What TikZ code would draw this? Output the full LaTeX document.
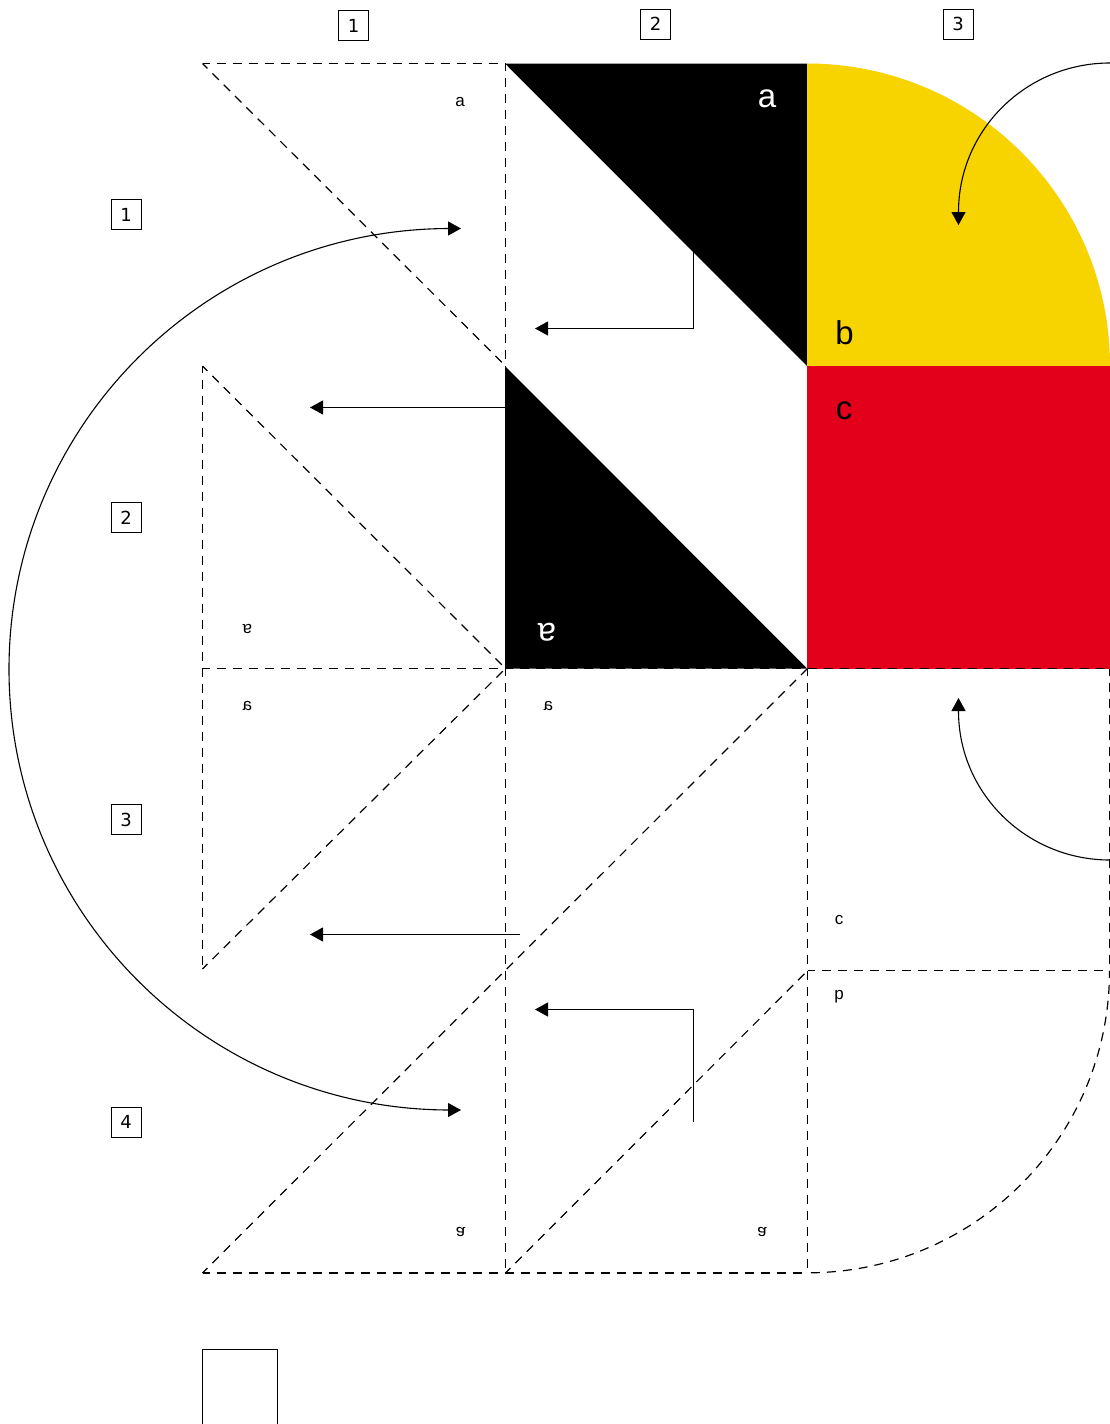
\documentclass[tikz,border=0pt]{standalone}
\usepackage{fontspec}
\setmainfont{Liberation Sans}
\newfontfamily\digitfont{DejaVu Sans}
\usetikzlibrary{arrows.meta}
\definecolor{flagyellow}{HTML}{F7D300}
\definecolor{flagred}{HTML}{E2001A}
\tikzset{
  x=1pt,y=-1pt,
  fold/.style={draw=black,line width=1.2pt,dash pattern=on 9pt off 7pt,dash phase=2pt},
  move/.style={draw=black,line width=1.1pt,-{Triangle[length=13pt,width=14pt]}},
  bothmove/.style={draw=black,line width=1.1pt,{Triangle[length=13pt,width=14pt]}-{Triangle[length=13pt,width=14pt]}},
  numbox/.style={draw=black,line width=0.9pt,minimum size=30pt,inner sep=0pt,font=\digitfont\fontsize{18}{18}\selectfont},
  biglabel/.style={inner sep=0pt,font=\fontsize{33}{33}\selectfont},
  smalllabel/.style={inner sep=0pt,font=\fontsize{17}{17}\selectfont}
}
\begin{document}
\begin{tikzpicture}
\useasboundingbox (0,0) rectangle (1110,1424);
% grid points for fills
\coordinate (fB1) at (505,63.5);  \coordinate (fC1) at (807,63.5);
\coordinate (fB2) at (505,366);   \coordinate (fC2) at (807,366);
\coordinate (fB3) at (505,668.5); \coordinate (fC3) at (807,668.5);
% grid points for fold lines
\coordinate (A1) at (202.5,63.5);  \coordinate (B1) at (505.5,63.5);  
\coordinate (A2) at (202.5,366);   \coordinate (B2) at (505.5,366);
\coordinate (A3) at (202.5,668.5); \coordinate (B3) at (505.5,668.5); \coordinate (C3) at (807.5,668.5); \coordinate (D3) at (1109.5,668.5);
\coordinate (A4) at (202.5,969);   \coordinate (C4) at (807.5,970.8); \coordinate (D4) at (1109.5,970.8);
\coordinate (A5) at (202.5,1273);  \coordinate (B5) at (505.5,1273);  \coordinate (C5) at (807.5,1273);
% filled shapes
\fill[black] (fB1) -- (fC1) -- (fC2) -- cycle;
\fill[black] (fB2) -- (fB3) -- (fC3) -- cycle;
\fill[flagyellow] (fC2) -- (fC1) arc[start angle=90,end angle=0,x radius=303,y radius=-302.5] -- cycle;
\fill[flagred] (fC2) rectangle (1110,668.5);
% fold lines
\draw[fold] (A1) -- (B1);
\draw[fold] (A1) -- (B2);
\draw[fold] (B1) -- (B2);
\draw[fold] (A2) -- (B3);
\draw[fold] (A2) -- (A4);
\draw[fold] (A3) -- (B3);
\draw[fold] (A4) -- (B3);
\draw[fold] (B3) -- (B5);
\draw[fold] (A5) -- (C3);
\draw[fold] (A5) -- (C5);
\draw[fold] (B5) -- (C4);
\draw[fold] (C3) -- (C5);
\draw[fold] (B3) -- (D3);
\draw[fold] (D3) -- (D4);
\draw[fold] (C4) -- (D4);
\draw[fold] (D4) arc[start angle=0,end angle=90,radius=302];
% arrows
\coordinate (e1s) at (693.5,250); \coordinate (e1m) at (693.5,328.5); \coordinate (e1e) at (535,328.5);
\draw[move] (e1s) -- (e1m) -- (e1e);
\coordinate (s2s) at (505,407.5); \coordinate (s2e) at (310,407.5);
\draw[move] (s2s) -- (s2e);
\coordinate (s3s) at (520,934.5); \coordinate (s3e) at (310,934.5);
\draw[move] (s3s) -- (s3e);
\coordinate (e4s) at (693.5,1122); \coordinate (e4m) at (693.5,1009.5); \coordinate (e4e) at (535,1009.5);
\draw[move] (e4s) -- (e4m) -- (e4e);
\coordinate (bigtop) at (461,228.5); \coordinate (bigbot) at (461,1110);
\draw[bothmove] (bigtop) -- (450,228.5) arc[start angle=90,end angle=270,x radius=441,y radius=-440.75] -- (bigbot);
\coordinate (tr) at (1110,63); \coordinate (trend) at (958.5,225);
\draw[move] (tr) arc[start angle=90,end angle=180,x radius=151.5,y radius=-149] -- (trend);
\coordinate (br) at (1110,860); \coordinate (brend) at (958.5,698);
\draw[move] (br) arc[start angle=270,end angle=180,x radius=151.5,y radius=-149] -- (brend);
% number boxes
\node[numbox] (t1) at (353.5,25.5) {1};
\node[numbox] (t2) at (655.5,24) {2};
\node[numbox] (t3) at (958,24) {3};
\node[numbox] (l1) at (126,214.5) {1};
\node[numbox] (l2) at (126,517.5) {2};
\node[numbox] (l3) at (126,819.5) {3};
\node[numbox] (l4) at (126,1122) {4};
% big labels
\node[biglabel,text=white] (la) at (767,98.5) {a};
\node[biglabel] (lb) at (844.5,333) {b};
\node[biglabel] (lc) at (844,411) {c};
\node[biglabel,text=white,rotate=180] (lar) at (547,632.5) {a};
% small labels
\node[smalllabel] (sa) at (460,102) {a};
\node[smalllabel,rotate=180] (sar) at (247.5,628.5) {a};
\node[smalllabel,xscale=-1] (sm1) at (247.5,706) {a};
\node[smalllabel,xscale=-1] (sm2) at (548.5,706) {a};
\node[smalllabel,yscale=-1] (sf1) at (460.5,1231.5) {a};
\node[smalllabel,yscale=-1] (sf2) at (762,1231.5) {a};
\node[smalllabel] (sc) at (839,920) {c};
\node[smalllabel] (sp) at (839,996.5) {p};
% lower blank box, cut by the page edge
\draw[line width=1pt] (202,1430) -- (202,1349) -- (277.5,1349) -- (277.5,1430);
\end{tikzpicture}
\end{document}
